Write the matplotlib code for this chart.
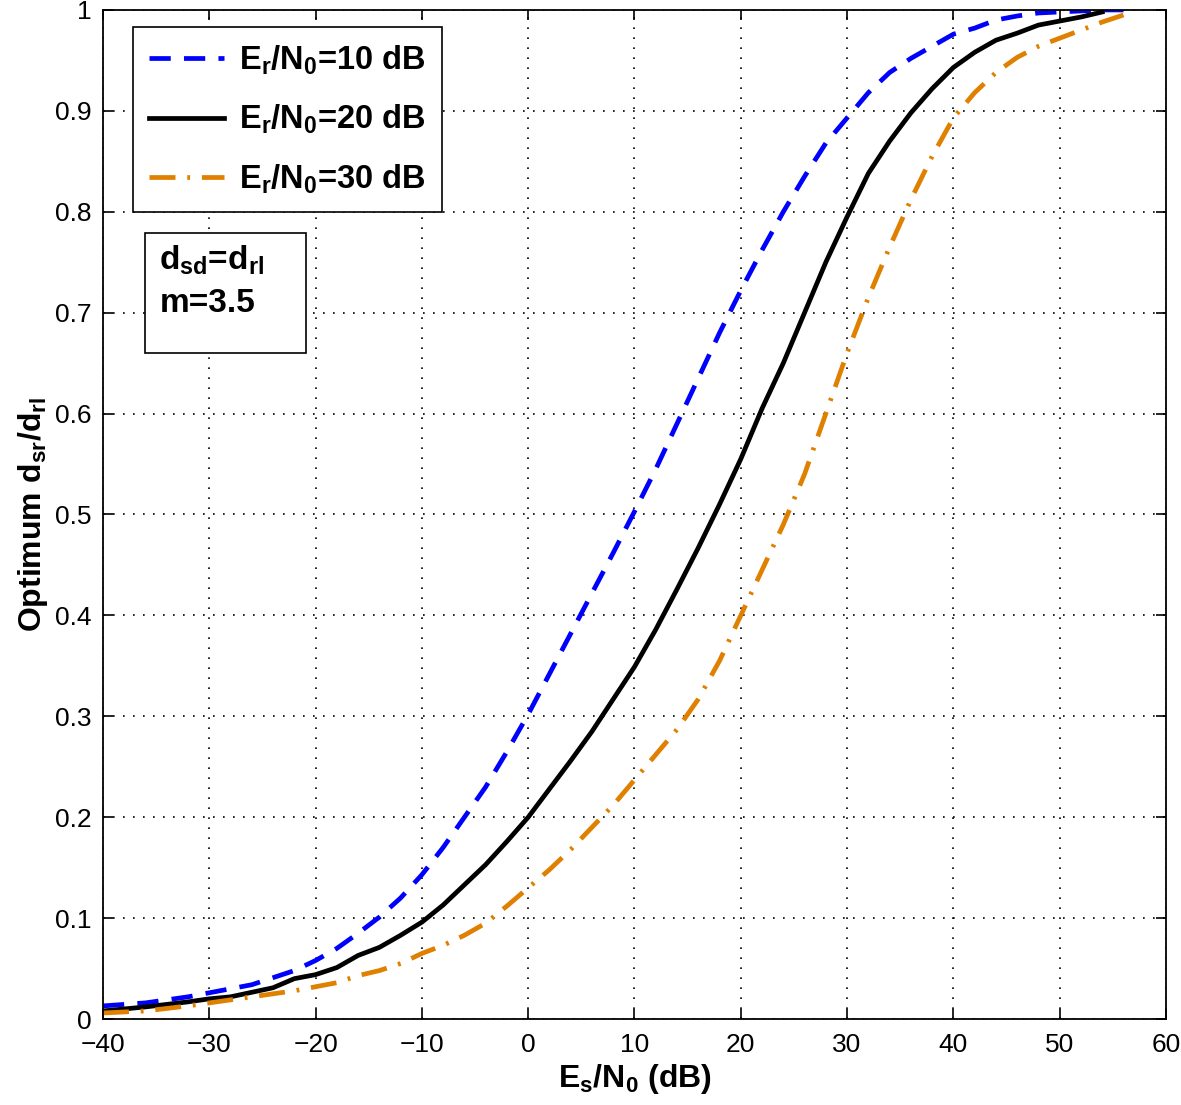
import numpy as np
import matplotlib.pyplot as plt
from matplotlib.patches import Rectangle

plt.rcParams['font.family'] = ['Liberation Sans', 'DejaVu Sans']
plt.rcParams['mathtext.fontset'] = 'custom'
plt.rcParams['mathtext.rm'] = 'Liberation Sans:bold'
plt.rcParams['mathtext.bf'] = 'Liberation Sans:bold'
plt.rcParams['mathtext.it'] = 'Liberation Sans:bold'
plt.rcParams['mathtext.default'] = 'bf'

# Er/N0 = 10 dB
x10 = [-40, -36, -32, -30, -26, -22, -20, -18, -16, -14, -12, -10, -8, -6, -4, -2, 0,
       2, 4, 6, 8, 10, 12, 14, 16, 18, 20, 22, 24, 26, 28, 30, 32, 34, 36, 38, 40,
       42, 44, 46, 48, 50, 52, 54, 56]
y10 = [0.013, 0.016, 0.022, 0.026, 0.034, 0.048, 0.058, 0.07, 0.085, 0.101, 0.12, 0.143,
       0.17, 0.2, 0.23, 0.265, 0.302, 0.342, 0.382, 0.422, 0.462, 0.503, 0.545, 0.59,
       0.635, 0.68, 0.722, 0.762, 0.8, 0.835, 0.868, 0.893, 0.918, 0.938, 0.952, 0.964,
       0.976, 0.982, 0.99, 0.994, 0.997, 0.998, 0.999, 1.0, 1.0]

# Er/N0 = 20 dB
x20 = [-40, -36, -32, -30, -28, -24, -22, -20, -18, -16, -14, -12, -10, -8, -6, -4, -2, 0,
       2, 4, 6, 8, 10, 12, 14, 16, 18, 20, 22, 24, 26, 28, 30, 32, 34, 36, 38, 40,
       42, 44, 46, 48, 50, 52, 54]
y20 = [0.008, 0.012, 0.017, 0.02, 0.022, 0.031, 0.04, 0.044, 0.051, 0.063, 0.071, 0.083,
       0.096, 0.113, 0.133, 0.153, 0.176, 0.2, 0.228, 0.256, 0.285, 0.317, 0.349, 0.386,
       0.426, 0.467, 0.51, 0.555, 0.605, 0.65, 0.7, 0.75, 0.795, 0.838, 0.87, 0.898,
       0.922, 0.943, 0.958, 0.97, 0.977, 0.985, 0.989, 0.993, 0.998]

# Er/N0 = 30 dB
x30 = [-40, -36, -32, -30, -26, -22, -20, -18, -16, -14, -12, -10, -8, -6, -4, -2, 0,
       2, 4, 6, 8, 10, 12, 14, 16, 18, 20, 22, 24, 26, 28, 30, 32, 34, 36, 38, 40,
       42, 44, 46, 48, 50, 52, 54, 56]
y30 = [0.006, 0.008, 0.013, 0.016, 0.022, 0.028, 0.032, 0.036, 0.043, 0.048, 0.055, 0.065,
       0.073, 0.083, 0.095, 0.112, 0.13, 0.148, 0.168, 0.19, 0.212, 0.237, 0.262, 0.287,
       0.317, 0.355, 0.4, 0.445, 0.49, 0.54, 0.6, 0.66, 0.715, 0.765, 0.812, 0.855,
       0.893, 0.918, 0.938, 0.953, 0.964, 0.972, 0.98, 0.988, 0.995]

labels = [r'$E_r/N_0$=10 dB', r'$E_r/N_0$=20 dB', r'$E_r/N_0$=30 dB']

fig = plt.figure(figsize=(11.81, 11.05), dpi=100)
ax = fig.add_axes([0.0872, 0.0778, 0.9001, 0.9132])

ax.plot(x10, y10, color='#0000ff', lw=3.4, dashes=(4.5, 2.8), label=labels[0])
ax.plot(x20, y20, color='black', lw=3.4, label=labels[1])
ax.plot(x30, y30, color='#df8000', lw=3.4, dashes=(5.5, 2.5, 0.6, 2.5), label=labels[2])

ax.set_xlim(-40, 60)
ax.set_ylim(0, 1)
ax.set_xticks(np.arange(-40, 61, 10))
ax.set_yticks(np.arange(0, 1.01, 0.1))
ax.set_xticklabels(['\u221240', '\u221230', '\u221220', '\u221210', '0', '10', '20', '30', '40', '50', '60'])
ax.set_yticklabels(['0', '0.1', '0.2', '0.3', '0.4', '0.5', '0.6', '0.7', '0.8', '0.9', '1'])
ax.tick_params(direction='in', labelsize=19, length=7, width=1.2, top=True, right=True)
ax.tick_params(axis='x', pad=10)
ax.tick_params(axis='y', pad=8)
ax.grid(True, color='black', linestyle=(0, (1, 5)), linewidth=1.2)
for s in ax.spines.values():
    s.set_linewidth(1.3)

ax.set_xlabel(r'$E_s/N_0$ (dB)', fontsize=23, fontweight='bold', labelpad=4)
ax.set_ylabel(r'Optimum $d_{sr}/d_{rl}$', fontsize=23, fontweight='bold', labelpad=4)

leg = ax.legend(loc='upper left', bbox_to_anchor=(0.028, 0.983),
                prop={'weight': 'bold', 'size': 23.5}, fancybox=False, edgecolor='black',
                framealpha=1, handlelength=2.3, handletextpad=0.45, borderpad=0.5,
                labelspacing=0.8, borderaxespad=0)
leg.get_frame().set_linewidth(1.2)

# parameter box
ax.add_patch(Rectangle((0.0395, 0.660), 0.1515, 0.119, transform=ax.transAxes,
                       facecolor='white', edgecolor='black', lw=1.2, zorder=5))
ax.text(0.053, 0.768, '$d_{sd}$=$d_{rl}$\nm=3.5', transform=ax.transAxes,
        fontsize=24, fontweight='bold', va='top', ha='left', linespacing=1.45, zorder=6)

fig.savefig('out.png', dpi=100)
